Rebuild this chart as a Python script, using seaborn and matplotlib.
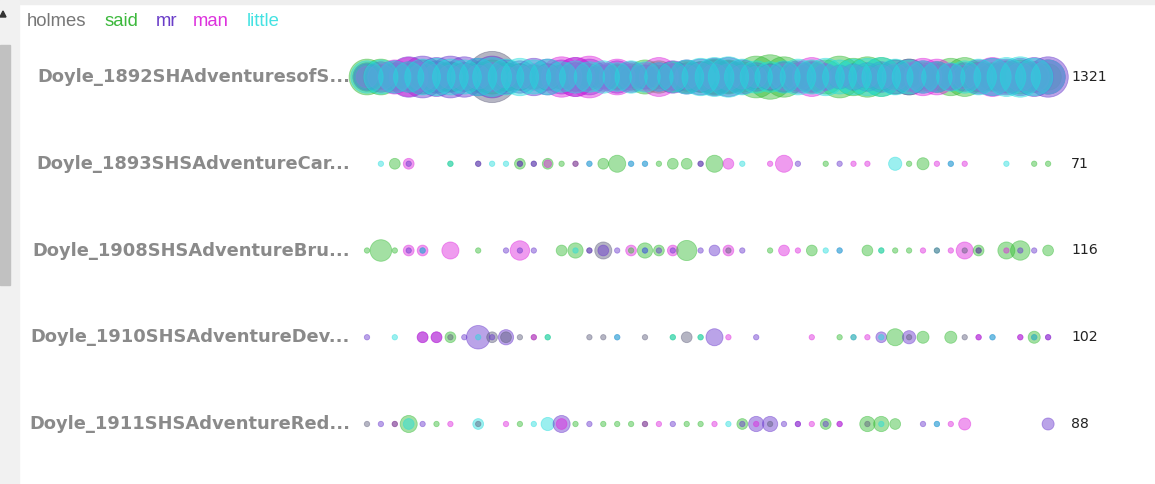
import numpy as np
import pandas as pd
import matplotlib
matplotlib.use("Agg")
import matplotlib.pyplot as plt
import seaborn as sns
from matplotlib.patches import Rectangle, Polygon

# words tracked and their colours
words = ["holmes", "said", "mr", "man", "little"]
word_colors = ["#777777", "#3cb83c", "#6a3dc8", "#dd33dd", "#44e2e2"]
bubble_colors = ["#5c5c7a", "#33bb33", "#6633cc", "#dd22dd", "#22dddd"]

docs = [
    "Doyle_1892SHAdventuresofS...",
    "Doyle_1893SHSAdventureCar...",
    "Doyle_1908SHSAdventureBru...",
    "Doyle_1910SHSAdventureDev...",
    "Doyle_1911SHSAdventureRed...",
]
doc_totals = [1321, 71, 116, 102, 88]
n_segments = 50

# row 1: count of every word in each of the 50 segments (0..49)
adv_holmes = [28, 20, 24, 32, 40, 36, 32, 28, 24, 90, 28, 24, 20, 24, 20, 28, 16, 20, 24, 16,
              20, 18, 24, 28, 32, 40, 36, 24, 20, 24, 16, 20, 28, 20, 16, 20, 18, 24, 20, 16,
              20, 24, 20, 16, 28, 24, 32, 28, 24, 40]
adv_said = [44, 44, 28, 24, 20, 24, 28, 24, 32, 40, 28, 24, 20, 24, 20, 28, 24, 16, 20, 24,
            40, 36, 32, 36, 32, 44, 40, 32, 60, 68, 56, 28, 36, 40, 60, 48, 56, 52, 40, 44,
            28, 32, 48, 52, 32, 28, 36, 40, 32, 24]
adv_mr = [24, 32, 36, 56, 60, 52, 60, 56, 48, 60, 40, 36, 48, 44, 40, 52, 44, 28, 36, 32,
          20, 28, 36, 40, 44, 48, 52, 40, 28, 24, 32, 36, 32, 24, 20, 24, 28, 32, 40, 44,
          36, 32, 24, 28, 40, 48, 44, 48, 52, 56]
adv_man = [16, 24, 40, 52, 28, 24, 20, 24, 20, 28, 16, 20, 24, 20, 56, 52, 60, 20, 44, 24,
           28, 52, 24, 20, 28, 24, 24, 20, 16, 20, 24, 28, 52, 24, 16, 20, 16, 20, 24, 28,
           48, 44, 24, 20, 28, 52, 36, 28, 32, 40]
adv_little = [36, 40, 36, 32, 44, 48, 44, 40, 48, 52, 44, 48, 40, 44, 32, 36, 32, 36, 28, 36,
              32, 28, 32, 40, 48, 52, 56, 44, 36, 32, 36, 44, 40, 48, 40, 44, 48, 52, 44, 40,
              36, 32, 28, 36, 44, 48, 52, 56, 48, 40]

# rows 2-5: only the segments where a word occurs
car_seg = [1, 2, 3, 3, 6, 6, 8, 8, 9, 10, 11, 11, 11, 12, 12, 13, 13, 14, 15, 15, 16, 16, 17, 18,
           19, 19, 20, 20, 21, 22, 23, 24, 24, 25, 26, 27, 29, 30, 31, 33, 34, 35, 36, 38, 39,
           40, 41, 42, 42, 43, 46, 48, 49]
car_word = ["little", "said", "man", "mr", "said", "little", "holmes", "mr", "little", "little",
            "said", "holmes", "mr", "holmes", "mr", "said", "man", "said", "man", "holmes",
            "mr", "little", "said", "said", "mr", "little", "mr", "little", "said", "said",
            "said", "holmes", "mr", "said", "man", "little", "man", "man", "mr", "said", "mr",
            "man", "man", "little", "said", "said", "man", "mr", "little", "man", "little",
            "said", "said"]
car_n = [1, 4, 4, 1, 1, 1, 1, 1, 1, 1, 4, 1, 1, 1, 1, 4, 2, 1, 1, 1, 1, 1, 4, 10,
         1, 1, 1, 1, 1, 4, 4, 1, 1, 10, 4, 1, 1, 10, 1, 1, 1, 1, 1, 6, 1,
         5, 1, 1, 1, 1, 1, 1, 1]

bru_seg = [0, 1, 2, 3, 3, 4, 4, 4, 6, 8, 10, 11, 11, 12, 14, 15, 15, 16, 16, 17, 17, 18, 19, 19,
           20, 20, 20, 21, 21, 22, 22, 23, 24, 25, 26, 26, 27, 29, 30, 31, 32, 33, 34, 34, 36,
           37, 37, 38, 39, 40, 41, 41, 42, 43, 43, 44, 44, 44, 46, 46, 47, 47, 48, 49]
bru_word = ["said", "said", "said", "man", "mr", "man", "mr", "little", "man", "said", "mr",
            "man", "mr", "mr", "said", "said", "little", "holmes", "mr", "holmes", "mr", "mr",
            "man", "said", "said", "little", "mr", "said", "mr", "man", "mr", "said", "mr", "mr",
            "man", "holmes", "mr", "said", "man", "man", "said", "little", "mr", "little",
            "said", "said", "little", "said", "said", "man", "little", "holmes", "man", "man",
            "holmes", "said", "mr", "holmes", "said", "man", "said", "mr", "mr", "said"]
bru_n = [1, 16, 1, 4, 1, 4, 1, 1, 10, 1, 1, 13, 1, 1, 4, 8, 1, 1, 1, 10, 4, 1, 4, 1,
         8, 1, 1, 4, 1, 4, 1, 14, 1, 4, 4, 1, 1, 1, 4, 1, 4, 1, 1, 1, 4,
         1, 1, 1, 1, 1, 1, 1, 1, 10, 1, 4, 1, 1, 10, 1, 13, 1, 1, 4]

dev_seg = [0, 2, 4, 4, 5, 5, 6, 6, 7, 8, 8, 9, 9, 10, 10, 11, 12, 12, 13, 13, 16, 17, 18, 18,
           20, 22, 22, 23, 24, 24, 25, 26, 28, 32, 34, 35, 35, 36, 37, 37, 38, 39, 39, 40, 42,
           43, 44, 44, 45, 45, 47, 47, 48, 48, 48, 49, 49]
dev_word = ["mr", "little", "mr", "man", "mr", "man", "said", "holmes", "mr", "mr", "little",
            "holmes", "mr", "mr", "holmes", "holmes", "holmes", "man", "said", "little",
            "holmes", "holmes", "mr", "little", "holmes", "said", "little", "holmes", "said",
            "little", "mr", "man", "mr", "man", "said", "holmes", "little", "man", "mr",
            "little", "said", "mr", "holmes", "said", "said", "holmes", "mr", "man", "mr",
            "little", "mr", "man", "said", "holmes", "little", "man", "mr"]
dev_n = [1, 1, 4, 4, 4, 4, 4, 1, 1, 19, 1, 4, 1, 8, 4, 1, 1, 1, 1, 1, 1, 1, 1, 1,
         1, 1, 1, 4, 1, 1, 10, 1, 1, 1, 1, 1, 1, 1, 4, 1, 10, 6, 1, 5, 5,
         1, 1, 1, 1, 1, 1, 1, 5, 1, 1, 1, 1]

red_seg = [0, 1, 2, 2, 3, 3, 4, 5, 6, 8, 8, 10, 11, 12, 13, 14, 14, 15, 16, 17, 18, 19, 20, 20,
           21, 22, 23, 24, 25, 26, 27, 27, 28, 28, 29, 29, 30, 31, 31, 32, 33, 33, 34, 34, 36,
           36, 37, 37, 38, 40, 41, 41, 42, 43, 49]
red_word = ["holmes", "mr", "man", "holmes", "said", "little", "mr", "said", "man", "little",
            "holmes", "man", "said", "little", "little", "mr", "man", "said", "mr", "said",
            "said", "said", "man", "holmes", "man", "mr", "said", "said", "man", "little",
            "said", "mr", "mr", "man", "mr", "holmes", "mr", "man", "mr", "man", "said", "mr",
            "mr", "man", "said", "holmes", "said", "little", "said", "mr", "mr", "little",
            "man", "man", "mr"]
red_n = [1, 1, 1, 1, 10, 4, 1, 1, 1, 4, 1, 1, 1, 1, 6, 10, 4, 1, 1, 1, 1, 1, 1, 1,
         1, 1, 1, 1, 1, 1, 4, 1, 8, 1, 8, 1, 1, 1, 1, 1, 4, 1, 1, 1, 8,
         1, 8, 1, 4, 1, 1, 1, 1, 5, 5]

records = []
for w, vals in zip(words, [adv_holmes, adv_said, adv_mr, adv_man, adv_little]):
    for seg, n in enumerate(vals):
        records.append({"row": 0, "seg": seg, "word": w, "n": n})
sparse_rows = [(car_seg, car_word, car_n), (bru_seg, bru_word, bru_n),
               (dev_seg, dev_word, dev_n), (red_seg, red_word, red_n)]
for i, (segs, ws, ns) in enumerate(sparse_rows, start=1):
    for seg, w, n in zip(segs, ws, ns):
        records.append({"row": i, "seg": seg, "word": w, "n": n})
df = pd.DataFrame(records)

sns.set_theme(style="white")
plt.rcParams["font.family"] = ["DejaVu Sans"]

W, H = 1155, 484
fig = plt.figure(figsize=(W / 100, H / 100), dpi=100)

# page chrome: top band, left scroll strip and thumb
fig.patches.append(Rectangle((0, 1 - 4 / H), 1, 4 / H, transform=fig.transFigure,
                             color="#eeeeee", zorder=0))
fig.patches.append(Rectangle((0, 0), 19 / W, 1, transform=fig.transFigure,
                             color="#f1f1f1", zorder=0))
fig.patches.append(Rectangle((0, 1 - 285 / H), 10 / W, 240 / H, transform=fig.transFigure,
                             color="#c1c1c1", zorder=0))
fig.patches.append(Polygon([(0, 1 - 17 / H), (3 / W, 1 - 11 / H), (6 / W, 1 - 17 / H)],
                           closed=True, transform=fig.transFigure, color="#333333", zorder=1))

# axes: row centres at y = 77 .. 424 px, segment 0..50 spans x = 367 .. 1062 px
row_px = 86.75
top_px = 77 - row_px / 2
ax = fig.add_axes([367 / W, 1 - (top_px + 5 * row_px) / H, 695 / W, 5 * row_px / H])
ax.set_xlim(0, n_segments)
ax.set_ylim(4.5, -0.5)
ax.axis("off")

seg_px = 695 / n_segments
for r in range(len(docs)):
    ax.hlines(r, 0, n_segments, color="#e4e4e4", lw=1, zorder=0)
    ax.vlines([0, n_segments], r - 8 / row_px, r + 8 / row_px, color="#d4d4d4", lw=1, zorder=0)
    ax.text(-17 / seg_px, r, docs[r], ha="right", va="center", fontsize=12.9,
            fontweight="bold", color="#8a8a8a")
    ax.text(n_segments + 9 / seg_px, r, str(doc_totals[r]), ha="left", va="center",
            fontsize=10.2, color="#222222")

sns.scatterplot(data=df, x="seg", y="row", hue="word", hue_order=words,
                palette=bubble_colors, size="n", sizes=(0, 1511), size_norm=(0, 100),
                alpha=0.45, linewidth=0, legend=False, ax=ax, zorder=2)
for coll in ax.collections:
    coll.set_clip_on(False)
    fc = coll.get_facecolors().copy()
    fc[:, 3] = 0.55
    coll.set_edgecolors(fc)
    coll.set_linewidths(0.6)
ax.set_xlim(0, n_segments)
ax.set_ylim(4.5, -0.5)

# legend as coloured words
legend_x = [27, 105, 156, 193, 247]
for w, c, x in zip(words, word_colors, legend_x):
    fig.text(x / W, 1 - 21 / H, w, color=c, fontsize=13.3, va="center", ha="left",
             family=["Liberation Sans", "DejaVu Sans"])

fig.savefig("out.png", dpi=100, facecolor="white")
